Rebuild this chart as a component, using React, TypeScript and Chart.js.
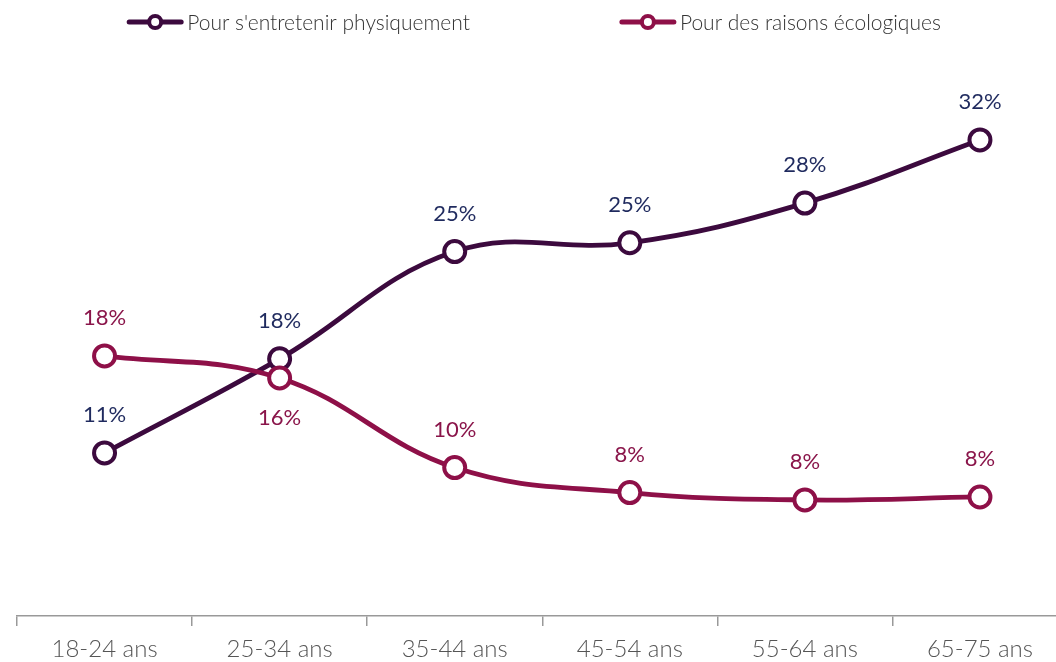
import React, { useEffect, useRef } from "react";
import { Chart, registerables } from "chart.js";

Chart.register(...registerables);

const categories = ["18-24 ans", "25-34 ans", "35-44 ans", "45-54 ans", "55-64 ans", "65-75 ans"];
const seriesNames = ["Pour s'entretenir physiquement", "Pour des raisons écologiques"];
const physiqueValues = [11.1, 17.5, 24.8, 25.4, 28.1, 32.4];
const ecoValues = [17.7, 16.2, 10.1, 8.4, 7.9, 8.1];
// label placement per point: true = below the point
const physiqueLabelBelow = [false, false, false, false, false, false];
const ecoLabelBelow = [false, true, false, false, false, false];

const PURPLE = "#3c0a3e";
const PINK = "#8e1048";
const PURPLE_LABEL = "#1f2a5e";
const PINK_LABEL = "#8a154a";
const FONT = "Lato, 'Open Sans', sans-serif";

const CANVAS_W = 1082;

const dataLabelPlugin = {
  id: "dataLabels",
  afterDatasetsDraw(chart: any) {
    const ctx = chart.ctx;
    ctx.save();
    ctx.font = `400 22px ${FONT}`;
    ctx.textAlign = "center";
    ctx.textBaseline = "middle";
    chart.data.datasets.forEach((ds: any, i: number) => {
      const meta = chart.getDatasetMeta(i);
      meta.data.forEach((pt: any, j: number) => {
        const below = ds.labelBelow[j];
        ctx.fillStyle = ds.labelColor;
        const txt = Math.round(ds.data[j]) + "%";
        ctx.fillText(txt, pt.x, below ? pt.y + 40 : pt.y - 38);
      });
    });
    ctx.restore();
  },
};

const legendPlugin = {
  id: "customLegend",
  afterDraw(chart: any) {
    const ctx = chart.ctx;
    ctx.save();
    ctx.font = `300 21px ${FONT}`;
    ctx.textBaseline = "middle";
    ctx.textAlign = "left";
    const markerW = 56;
    const textGap = 4;
    const itemGap = 150;
    const items = chart.data.datasets.map((ds: any) => ({
      label: ds.label,
      color: ds.borderColor,
      w: ctx.measureText(ds.label).width,
    }));
    let total = 0;
    items.forEach((it: any, k: number) => {
      total += markerW + textGap + it.w + (k > 0 ? itemGap : 0);
    });
    let x = 534 - total / 2;
    const y = 22;
    items.forEach((it: any) => {
      ctx.strokeStyle = it.color;
      ctx.lineWidth = 5;
      ctx.lineCap = "round";
      ctx.beginPath();
      ctx.moveTo(x + 2, y);
      ctx.lineTo(x + markerW - 2, y);
      ctx.stroke();
      ctx.beginPath();
      ctx.arc(x + markerW / 2, y, 6, 0, Math.PI * 2);
      ctx.fillStyle = "#fff";
      ctx.fill();
      ctx.lineWidth = 4;
      ctx.stroke();
      ctx.fillStyle = "#333";
      ctx.fillText(it.label, x + markerW + textGap, y + 1);
      x += markerW + textGap + it.w + itemGap;
    });
    ctx.restore();
  },
};

export default function App() {
  const ref = useRef<HTMLCanvasElement | null>(null);
  useEffect(() => {
    if (!ref.current) return;
    const chart = new Chart(ref.current, {
      type: "line",
      data: {
        labels: categories,
        datasets: [
          {
            label: seriesNames[0],
            data: physiqueValues,
            borderColor: PURPLE,
            backgroundColor: "#fff",
            pointBackgroundColor: "#fff",
            pointBorderColor: PURPLE,
            borderWidth: 4.8,
            pointRadius: 10.5,
            pointBorderWidth: 4,
            tension: 0.4,
            order: 1,
            labelColor: PURPLE_LABEL,
            labelBelow: physiqueLabelBelow,
          } as any,
          {
            label: seriesNames[1],
            data: ecoValues,
            borderColor: PINK,
            backgroundColor: "#fff",
            pointBackgroundColor: "#fff",
            pointBorderColor: PINK,
            borderWidth: 4.8,
            pointRadius: 10.5,
            pointBorderWidth: 4,
            tension: 0.4,
            order: 0,
            labelColor: PINK_LABEL,
            labelBelow: ecoLabelBelow,
          } as any,
        ],
      },
      options: {
        animation: false,
        responsive: false,
        maintainAspectRatio: false,
        devicePixelRatio: 1,
        layout: { padding: { top: 87, left: 17, right: 3, bottom: 0 } },
        plugins: {
          legend: { display: false },
          tooltip: { enabled: false },
        },
        scales: {
          x: {
            offset: true,
            grid: {
              offset: true,
              drawOnChartArea: false,
              drawTicks: true,
              tickLength: 10,
              color: "#999",
              lineWidth: 1.5,
            },
            border: { display: true, color: "#999", width: 1.5 },
            ticks: {
              color: "#555",
              padding: 9,
              font: { family: FONT, size: 24, weight: "300" as any },
            },
            afterFit: (scale: any) => {
              scale.height = 46;
            },
          },
          y: {
            display: false,
            min: 0,
            max: 36,
          },
        },
      },
      plugins: [dataLabelPlugin, legendPlugin],
    });
    return () => chart.destroy();
  }, []);

  return (
    <div style={{ position: "fixed", left: 0, top: 0, width: 1056, height: 662, overflow: "hidden", background: "#fff" }}>
      <canvas ref={ref} width={CANVAS_W} height={662} style={{ display: "block", width: CANVAS_W, height: 662 }} />
    </div>
  );
}
